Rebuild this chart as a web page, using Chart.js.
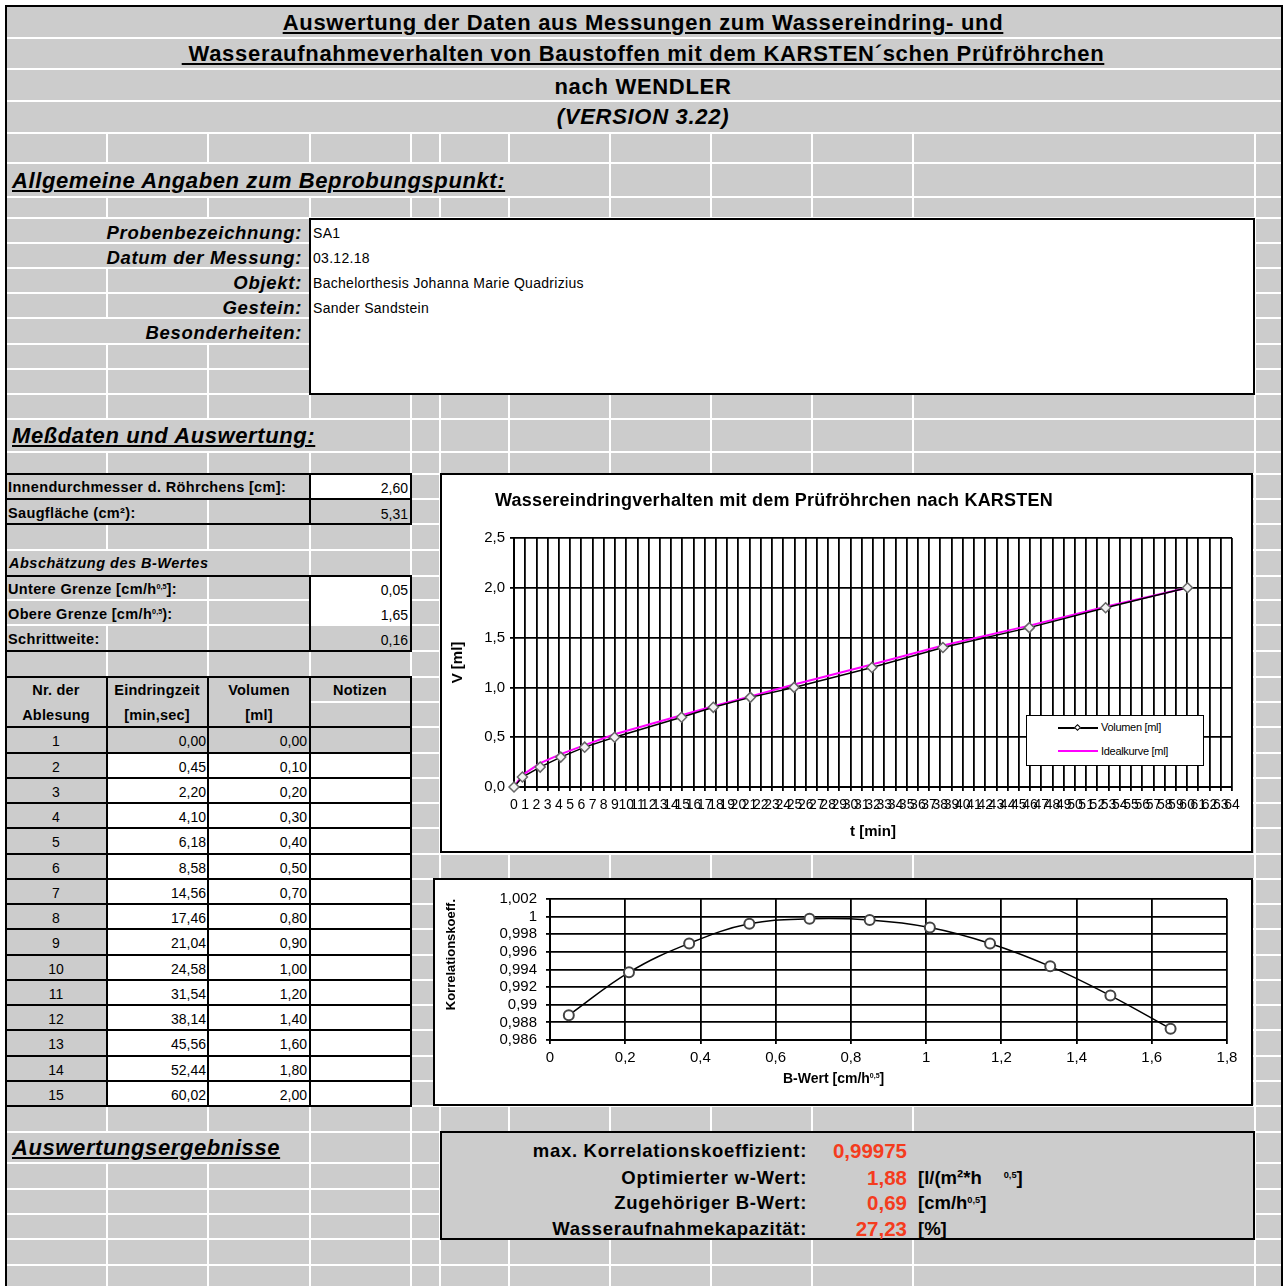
<!DOCTYPE html>
<html lang="de">
<head>
<meta charset="utf-8">
<title>Auswertung KARSTEN Prüfröhrchen</title>
<script src="https://cdn.jsdelivr.net/npm/chart.js@4.4.0/dist/chart.umd.min.js"></script>
<style>
  html, body { margin: 0; padding: 0; background: #fff; }
  #seite { position: absolute; left: 0; top: 0; width: 1286px; height: 1286px; overflow: hidden;
           font-family: 'Liberation Sans', Arial, sans-serif; color: #000; }
  .t { position: absolute; white-space: pre; }
  sup { font-size: 0.5em; vertical-align: 0.7em; line-height: 0; letter-spacing: 0; }
  canvas { position: absolute; }
</style>
</head>
<body>
<div id="seite"></div>
<script>
// --- Messdaten (aus der Tabelle) ---
const ablesung = [1, 2, 3, 4, 5, 6, 7, 8, 9, 10, 11, 12, 13, 14, 15];
const eindringzeit = ['0,00', '0,45', '2,20', '4,10', '6,18', '8,58', '14,56', '17,46', '21,04', '24,58', '31,54', '38,14', '45,56', '52,44', '60,02'];
const volumen = [0.00, 0.10, 0.20, 0.30, 0.40, 0.50, 0.70, 0.80, 0.90, 1.00, 1.20, 1.40, 1.60, 1.80, 2.00];
const idealkurve = [0, 0.12, 0.24, 0.33, 0.42, 0.53, 0.72, 0.81, 0.91, 1.03, 1.23, 1.42, 1.62, 1.81, 2.00];

// --- B-Wert Abschaetzung ---
const bWerte = [0.05, 0.21, 0.37, 0.53, 0.69, 0.85, 1.01, 1.17, 1.33, 1.49, 1.65];
const korrelation = [0.98882, 0.99368, 0.99696, 0.99918, 0.99975, 0.99962, 0.99877, 0.99696, 0.99436, 0.99104, 0.98728];

// --- Kopfdaten ---
const angabenLabels = ['Probenbezeichnung:', 'Datum der Messung:', 'Objekt:', 'Gestein:', 'Besonderheiten:'];
const angabenWerte = ['SA1', '03.12.18', 'Bachelorthesis Johanna Marie Quadrizius', 'Sander Sandstein', ''];
const ergebnisLabels = ['max. Korrelationskoeffizient:', 'Optimierter w-Wert:', 'Zugehöriger B-Wert:', 'Wasseraufnahmekapazität:'];
const ergebnisWerte = ['0,99975', '1,88', '0,69', '27,23'];
const ergebnisEinheiten = ['', '[l/(m²*h<span style="display:inline-block;width:22px"></span><sup>0,5</sup>]', '[cm/h<sup>0,5</sup>]', '[%]'];

const GRAU = '#cccccc';
const seite = document.getElementById('seite');

function box(x, y, w, h, style) {
  const d = document.createElement('div');
  d.style.cssText = `position:absolute;left:${x}px;top:${y}px;width:${w}px;height:${h}px;box-sizing:border-box;${style || ''}`;
  seite.appendChild(d);
  return d;
}

function schwarz(x, y, w, h) { return box(x, y, w, h, 'background:#000'); }

function text(x, y, html, o = {}) {
  const d = document.createElement('div');
  d.className = 't';
  const size = o.size || 14;
  d.style.fontSize = size + 'px';
  d.style.lineHeight = (size * 2) + 'px';
  d.style.height = (size * 2) + 'px';
  d.style.top = (y - size) + 'px';
  if (o.align === 'right') {
    d.style.right = (1286 - x) + 'px';
  } else if (o.align === 'center') {
    d.style.left = (x - 600) + 'px';
    d.style.width = '1200px';
    d.style.textAlign = 'center';
  } else {
    d.style.left = x + 'px';
  }
  if (o.bold) d.style.fontWeight = 'bold';
  if (o.italic) d.style.fontStyle = 'italic';
  if (o.underline) d.style.textDecoration = 'underline';
  if (o.color) d.style.color = o.color;
  if (o.ls) d.style.letterSpacing = o.ls + 'px';
  d.innerHTML = html;
  seite.appendChild(d);
  return d;
}

function leinwand(id, x, y, w, h) {
  const c = document.createElement('canvas');
  c.id = id;
  c.width = w;
  c.height = h;
  c.style.left = x + 'px';
  c.style.top = y + 'px';
  seite.appendChild(c);
  return c;
}

// --- Tabellenblatt: grauer Hintergrund mit weissen Zellgittern ---
box(5, 5, 1278, 1281, 'background:' + GRAU);

const SPALTEN = [107, 208, 310, 411, 440, 509, 610, 711, 812, 913, 1255];
const ZEILEN = [7, 38, 69, 101, 133, 163, 197, 218, 243, 268, 293, 318, 344, 369, 394, 419, 452, 474, 499, 524,
  550, 576, 600, 625, 651, 677, 702, 727, 753, 778, 803, 828, 854, 879, 904, 929, 955, 980, 1005, 1030, 1056,
  1081, 1106, 1132, 1163, 1189, 1214, 1239, 1265, 1286];
const OHNE = {
  7: 'alle', 38: 'alle', 69: 'alle', 101: 'alle',
  163: [107, 208, 310, 411, 440, 509],
  218: [107, 208], 243: [107, 208], 268: [208], 293: [208], 318: [107, 208],
  419: [107, 208, 310], 474: [107, 208], 499: [107], 550: [107, 208], 576: [107], 600: [107],
  1132: [107, 208]
};

for (let i = 0; i < ZEILEN.length - 1; i++) {
  const y0 = ZEILEN[i], y1 = ZEILEN[i + 1];
  if (i > 0) box(7, y0 - 1, 1274, 2, 'background:#fff');
  const skip = OHNE[y0] || [];
  if (skip === 'alle') continue;
  SPALTEN.forEach((x) => {
    if (!skip.includes(x)) box(x - 1, y0, 2, y1 - y0, 'background:#fff');
  });
}

// Rahmen des Blattes
schwarz(5, 5, 1278, 2);
schwarz(5, 5, 2, 1281);
schwarz(1281, 5, 2, 1281);

// --- Ueberschriften ---
text(643, 23, 'Auswertung der Daten aus Messungen zum Wassereindring- und', { size: 22, bold: true, underline: true, align: 'center', ls: 0.7 });
text(643, 54, ' Wasseraufnahmeverhalten von Baustoffen mit dem KARSTEN´schen Prüfröhrchen', { size: 22, bold: true, underline: true, align: 'center', ls: 0.7 });
text(643, 87, 'nach WENDLER', { size: 22, bold: true, align: 'center', ls: 0.7 });
text(643, 117, '(VERSION 3.22)', { size: 22, bold: true, italic: true, align: 'center', ls: 0.7 });

text(12, 181, 'Allgemeine Angaben zum Beprobungspunkt:', { size: 22, bold: true, italic: true, underline: true, ls: 0.6 });
text(12, 436, 'Meßdaten und Auswertung:', { size: 22, bold: true, italic: true, underline: true, ls: 0.6 });
text(12, 1148, 'Auswertungsergebnisse', { size: 22, bold: true, italic: true, underline: true, ls: 0.6 });

// --- Allgemeine Angaben ---
box(309, 218, 946, 177, 'background:#fff;border:2px solid #000');
const angabenY = [232, 257, 282, 307, 332];
angabenLabels.forEach((l, i) => {
  text(302, angabenY[i], l, { size: 18.5, bold: true, italic: true, align: 'right', ls: 0.7 });
  if (angabenWerte[i]) text(313, angabenY[i] + 1, angabenWerte[i], { size: 14, ls: 0.3 });
});

// --- Roehrchen ---
box(310, 474, 101, 25, 'background:#fff');
schwarz(5, 473, 407, 2); schwarz(5, 498, 407, 2); schwarz(5, 523, 407, 2);
schwarz(5, 473, 2, 52); schwarz(309, 473, 2, 52); schwarz(410, 473, 2, 52);
text(8, 487, 'Innendurchmesser d. Röhrchens [cm]:', { size: 14.5, bold: true, ls: 0.35 });
text(8, 513, 'Saugfläche (cm²):', { size: 14.5, bold: true, ls: 0.35 });
text(408, 488, '2,60', { size: 14, align: 'right' });
text(408, 514, '5,31', { size: 14, align: 'right' });

// --- Abschaetzung des B-Wertes ---
text(9, 563, 'Abschätzung des B-Wertes', { size: 14.5, bold: true, italic: true, ls: 0.5 });
box(310, 576, 101, 49, 'background:#fff');
schwarz(5, 575, 407, 2); schwarz(5, 650, 407, 2);
schwarz(5, 575, 2, 77); schwarz(309, 575, 2, 77); schwarz(410, 575, 2, 77);
text(8, 589, 'Untere Grenze [cm/h<sup>0,5</sup>]:', { size: 14.5, bold: true, ls: 0.35 });
text(8, 614, 'Obere Grenze [cm/h<sup>0,5</sup>):', { size: 14.5, bold: true, ls: 0.35 });
text(8, 639, 'Schrittweite:', { size: 14.5, bold: true, ls: 0.35 });
text(408, 590, '0,05', { size: 14, align: 'right' });
text(408, 615, '1,65', { size: 14, align: 'right' });
text(408, 640, '0,16', { size: 14, align: 'right' });

// --- Messwerttabelle ---
const TAB_Y = [727, 753, 778, 803, 828, 854, 879, 904, 929, 955, 980, 1005, 1030, 1056, 1081, 1106];
box(7, 678, 303, 48, 'background:' + GRAU);
ablesung.forEach((nr, i) => {
  const y0 = TAB_Y[i], y1 = TAB_Y[i + 1];
  if (i > 0) box(107, y0, 304, y1 - y0, 'background:#fff');
  const yc = (y0 + y1) / 2 + 1;
  text(56, yc, String(nr), { size: 14, align: 'center' });
  text(206, yc, eindringzeit[i], { size: 14, align: 'right' });
  text(307, yc, volumen[i].toFixed(2).replace('.', ','), { size: 14, align: 'right' });
});
schwarz(5, 676, 407, 2);
schwarz(5, 726, 407, 2);
TAB_Y.slice(1).forEach((y) => schwarz(5, y - 1, 407, 2));
[5, 106, 207, 309, 410].forEach((x) => schwarz(x, 676, 2, 431));
[['Nr. der', 'Ablesung', 56], ['Eindringzeit', '[min,sec]', 157], ['Volumen', '[ml]', 259], ['Notizen', '', 360]].forEach(([a, b, x]) => {
  text(x, 690, a, { size: 14.5, bold: true, align: 'center', ls: 0.2 });
  if (b) text(x, 715, b, { size: 14.5, bold: true, align: 'center', ls: 0.2 });
});

// --- Diagrammrahmen ---
box(440, 473, 813, 380, 'background:#fff;border:2px solid #000');
box(433, 878, 820, 228, 'background:#fff;border:2px solid #000');
const canvasEindring = leinwand('chart-eindring', 442, 475, 809, 376);
const canvasKorrelation = leinwand('chart-korrelation', 435, 880, 816, 224);

text(495, 500, 'Wassereindringverhalten mit dem Prüfröhrchen nach KARSTEN', { size: 18, bold: true, ls: 0.2 });
text(783, 1078, 'B-Wert [cm/h<sup>0,5</sup>]', { size: 14, bold: true });

// Legende Diagramm 1
box(1026, 715, 178, 51, 'background:#fff;border:1.5px solid #000');
box(1058, 727, 40, 1.5, 'background:#000');
box(1075, 725, 5, 5, 'background:#fff;border:1px solid #000;transform:rotate(45deg)');
box(1058, 750, 40, 2, 'background:#ff00ff');
text(1101, 727, 'Volumen [ml]', { size: 11, ls: -0.3 });
text(1101, 751, 'Idealkurve [ml]', { size: 11, ls: -0.3 });

// --- Ergebnisse ---
box(440, 1131, 815, 109, 'background:' + GRAU + ';border:2px solid #000');
const ergebnisY = [1150, 1177, 1202, 1228];
ergebnisLabels.forEach((l, i) => {
  text(807, ergebnisY[i], l, { size: 18.5, bold: true, align: 'right', ls: 0.7 });
  text(907, ergebnisY[i], ergebnisWerte[i], { size: 20.5, bold: true, align: 'right', color: '#f43c1e' });
  if (ergebnisEinheiten[i]) text(918, ergebnisY[i], ergebnisEinheiten[i], { size: 18.5, bold: true });
});

// --- Diagramme ---
Chart.defaults.font.family = "'Liberation Sans', Arial, sans-serif";
Chart.defaults.color = '#000';

const zeitMin = eindringzeit.map((s) => {
  const [m, sec] = s.split(',').map(Number);
  return m + sec / 60;
});

const komma = (v, d) => Number(v.toFixed(d)).toString().replace('.', ',');

new Chart(canvasEindring, {
  type: 'scatter',
  data: {
    datasets: [
      {
        label: 'Volumen [ml]',
        data: zeitMin.map((t, i) => ({ x: t, y: volumen[i] })),
        showLine: true,
        clip: false,
        borderColor: '#000',
        borderWidth: 1.5,
        pointStyle: 'rectRot',
        pointRadius: 5,
        pointBackgroundColor: '#f2f2f2',
        pointBorderColor: '#666',
        pointBorderWidth: 1.5,
        order: 0
      },
      {
        label: 'Idealkurve [ml]',
        data: zeitMin.map((t, i) => ({ x: t, y: idealkurve[i] })),
        showLine: true,
        borderColor: '#ff00ff',
        borderWidth: 2,
        pointRadius: 0,
        order: 1
      }
    ]
  },
  options: {
    responsive: false,
    animation: false,
    layout: { padding: { top: 63, right: 19, left: 0, bottom: 0 } },
    plugins: { legend: { display: false }, tooltip: { enabled: false } },
    scales: {
      x: {
        type: 'linear', min: 0, max: 64,
        ticks: { stepSize: 1, maxTicksLimit: 200, autoSkip: false, maxRotation: 0, minRotation: 0, padding: 6,
                 font: { size: 14 }, callback: (v) => String(v) },
        grid: { color: '#000', lineWidth: 1.8, tickLength: 4 },
        border: { color: '#000', width: 2 },
        title: { display: true, text: 't [min]', font: { size: 15, weight: 'bold' }, padding: { top: 0, bottom: 10 } },
        afterFit: (s) => { s.height = 64; }
      },
      y: {
        min: 0, max: 2.5,
        ticks: { stepSize: 0.5, autoSkip: false, padding: 5, font: { size: 15 }, callback: (v) => v.toFixed(1).replace('.', ',') },
        grid: { color: '#000', lineWidth: 1.8, tickLength: 4 },
        border: { color: '#000', width: 2 },
        title: { display: true, text: 'V [ml]', font: { size: 15, weight: 'bold' }, padding: { top: 7, bottom: 0 } },
        afterFit: (s) => { s.width = 72; }
      }
    }
  }
});

new Chart(canvasKorrelation, {
  type: 'scatter',
  data: {
    datasets: [{
      label: 'Korrelationskoeff.',
      data: bWerte.map((b, i) => ({ x: b, y: korrelation[i] })),
      showLine: true,
      tension: 0.4,
      borderColor: '#000',
      borderWidth: 1.5,
      pointStyle: 'circle',
      pointRadius: 5,
      pointBackgroundColor: '#fff',
      pointBorderColor: '#444',
      pointBorderWidth: 2
    }]
  },
  options: {
    responsive: false,
    animation: false,
    layout: { padding: { top: 19, right: 24, left: 0, bottom: 0 } },
    plugins: { legend: { display: false }, tooltip: { enabled: false } },
    scales: {
      x: {
        type: 'linear', min: 0, max: 1.8,
        ticks: { stepSize: 0.2, autoSkip: false, maxRotation: 0, padding: 5, font: { size: 15 }, callback: (v) => komma(v, 1) },
        grid: { color: '#000', lineWidth: 1.8, tickLength: 4 },
        border: { color: '#000', width: 2 },
        afterFit: (s) => { s.height = 64; }
      },
      y: {
        min: 0.986, max: 1.002,
        ticks: { stepSize: 0.002, autoSkip: false, padding: 9, font: { size: 15 }, callback: (v) => komma(v, 3) },
        grid: { color: '#000', lineWidth: 1.8, tickLength: 4 },
        border: { color: '#000', width: 2 },
        title: { display: true, text: 'Korrelationskoeff.', align: 'end', font: { size: 13, weight: 'bold' }, padding: { top: 9, bottom: 0 } },
        afterFit: (s) => { s.width = 115; }
      }
    }
  }
});
</script>
</body>
</html>
